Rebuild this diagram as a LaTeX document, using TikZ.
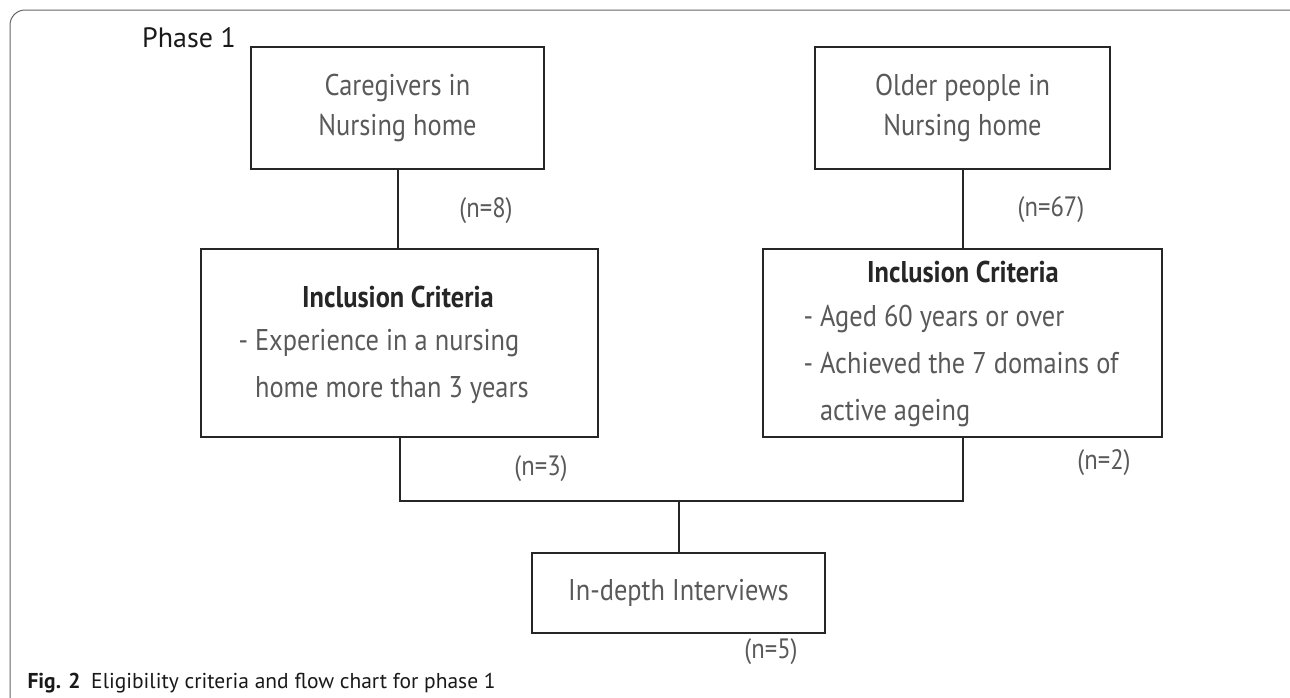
\documentclass[tikz,border=0pt]{standalone}
\usepackage{fontspec}
\setmainfont{PT Sans}
\newfontfamily\boxfont[FakeStretch=0.88]{PT Sans}
\usetikzlibrary{positioning}

\begin{document}
\begin{tikzpicture}[x=1pt,y=-1pt,
  box/.style={draw=black!85, line width=2pt, inner sep=0pt, align=center},
  txt/.style={font=\boxfont\fontsize{30}{40}\selectfont, text=black!65},
  crit/.style={font=\boxfont\fontsize{30}{47}\selectfont, text=black!65, align=left, anchor=west},
  head/.style={font=\boxfont\bfseries\fontsize{30}{36}\selectfont, text=black!85},
  nlab/.style={font=\boxfont\fontsize{28}{30}\selectfont, text=black!65},
  conn/.style={draw=black!85, line width=2pt}]
\useasboundingbox (0,0) rectangle (1290,697);
\clip (0,0) rectangle (1290,697);
% frame of the figure
\draw[black!60, line width=1pt, rounded corners=15pt] (10,720) -- (10,10) -- (1305,10) -- (1305,720);
\node[font=\fontsize{28}{30}\selectfont, text=black!90] (phase) at (189,38) {Phase 1};

% top boxes
\node[box, txt, minimum width=293, minimum height=122] (care) at (397.5,108) {Caregivers in\\Nursing home};
\node[box, txt, minimum width=295, minimum height=122] (older) at (962.5,108) {Older people in\\Nursing home};
\node[nlab] (n8) at (486,211) {(n=8)};
\node[nlab] (n67) at (1051,210) {(n=67)};

% inclusion criteria
\node[box, minimum width=397, minimum height=188] (inclA) at (399.5,343) {};
\node[head] (headA) at (398,297) {Inclusion Criteria};
\node[crit] (critA) at (235,366) {- Experience in a nursing\\\hphantom{- }home more than 3 years};
\node[box, minimum width=399, minimum height=188] (inclB) at (962.5,343) {};
\node[head] (headB) at (963,272) {Inclusion Criteria};
\node[crit] (critB) at (800,366) {- Aged 60 years or over\\- Achieved the 7 domains of\\\hphantom{- }active ageing};
\node[nlab] (n3) at (541,469) {(n=3)};
\node[nlab] (n2) at (1104,463) {(n=2)};

% interviews
\node[box, txt, minimum width=293, minimum height=80] (interv) at (678.5,593) {In-depth Interviews};
\node[nlab] (n5) at (771,652) {(n=5)};
\coordinate (join) at (678.5,501);

\draw[conn] (care.south) -- (care.south |- inclA.north);
\draw[conn] (older.south) -- (older.south |- inclB.north);
\draw[conn] (inclA.south) |- (join) -| (inclB.south);
\draw[conn] (join) -- (interv.north);

\node[anchor=west, font=\fontsize{21.5}{24}\selectfont, text=black!90] (caption) at (24,683) {\textbf{Fig. 2}\enspace Eligibility criteria and flow chart for phase 1};
\end{tikzpicture}
\end{document}
